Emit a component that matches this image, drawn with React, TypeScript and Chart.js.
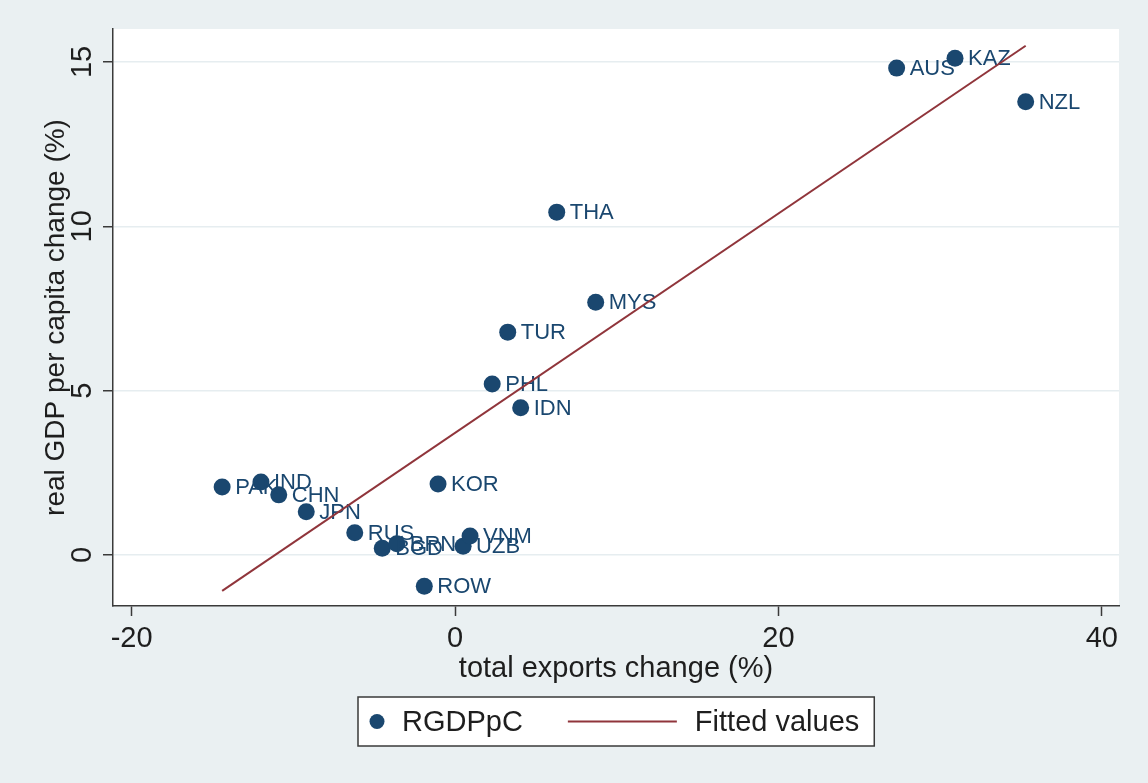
import React, { useEffect, useRef } from "react";
import { Chart, registerables } from "chart.js";

Chart.register(...registerables);

const countries = ["PAK", "IND", "CHN", "JPN", "RUS", "BGD", "BRN", "ROW", "KOR", "UZB", "VNM", "PHL", "IDN", "TUR", "THA", "MYS", "AUS", "KAZ", "NZL"];
const exportsChange = [-14.4, -12.0, -10.9, -9.2, -6.2, -4.5, -3.6, -1.9, -1.05, 0.5, 0.93, 2.3, 4.06, 3.26, 6.29, 8.7, 27.31, 30.92, 35.29];
const gdpChange = [2.07, 2.22, 1.83, 1.32, 0.68, 0.21, 0.34, -0.95, 2.16, 0.27, 0.58, 5.2, 4.48, 6.78, 10.43, 7.69, 14.81, 15.11, 13.79];
const fittedX = [-14.4, 35.29];
const fittedY = [-1.09, 15.49];
const xTicks = [-20, 0, 20, 40];
const yTicks = [0, 5, 10, 15];

const FAMILY = "'Liberation Sans', Arial, sans-serif";
const NAVY = "#1a476f";
const MAROON = "#90353b";
const BG = "#eaf0f2";
const GRID = "#e6edf0";
const AXIS = "#3a3a3a";
const TEXT = "#1e1e1e";

const bgPlugin = {
  id: "bgPlugin",
  beforeDraw(chart: any) {
    const { ctx, chartArea } = chart;
    ctx.save();
    ctx.fillStyle = BG;
    ctx.fillRect(0, 0, chart.width, chart.height);
    ctx.fillStyle = "#ffffff";
    ctx.fillRect(chartArea.left, chartArea.top, chartArea.right - chartArea.left, chartArea.bottom - chartArea.top);
    ctx.restore();
  },
};

const labelPlugin = {
  id: "labelPlugin",
  afterDatasetDraw(chart: any, args: any) {
    if (args.index !== 0) return;
    const { ctx } = chart;
    const meta = chart.getDatasetMeta(0);
    ctx.save();
    ctx.font = `22px ${FAMILY}`;
    ctx.fillStyle = NAVY;
    ctx.textBaseline = "middle";
    ctx.textAlign = "left";
    meta.data.forEach((pt: any, i: number) => {
      ctx.fillText(countries[i], pt.x + 13, pt.y + 1);
    });
    ctx.restore();
  },
};

const legendPlugin = {
  id: "legendPlugin",
  afterDraw(chart: any) {
    const { ctx, chartArea } = chart;
    ctx.save();
    ctx.font = `29px ${FAMILY}`;
    const t1 = "RGDPpC";
    const t2 = "Fitted values";
    const w1 = ctx.measureText(t1).width;
    const w2 = ctx.measureText(t2).width;
    const padL = 10, markerD = 18, gap1 = 16, gap2 = 45, lineW = 109, gap3 = 18, padR = 15;
    const total = padL + markerD + gap1 + w1 + gap2 + lineW + gap3 + w2 + padR;
    const left = Math.round((chartArea.left + chartArea.right) / 2 - total / 2);
    const top = chart.scales.x.bottom - 9;
    const h = 49;
    ctx.fillStyle = "#ffffff";
    ctx.fillRect(left, top, total, h);
    ctx.strokeStyle = AXIS;
    ctx.lineWidth = 1.5;
    ctx.strokeRect(left, top, total, h);
    const cy = top + h / 2;
    let x = left + padL;
    ctx.fillStyle = NAVY;
    ctx.beginPath();
    ctx.arc(x + markerD / 2, cy, 7.5, 0, Math.PI * 2);
    ctx.fill();
    x += markerD + gap1;
    ctx.fillStyle = TEXT;
    ctx.textBaseline = "middle";
    ctx.textAlign = "left";
    ctx.fillText(t1, x, cy + 1);
    x += w1 + gap2;
    ctx.strokeStyle = MAROON;
    ctx.lineWidth = 2;
    ctx.beginPath();
    ctx.moveTo(x, cy);
    ctx.lineTo(x + lineW, cy);
    ctx.stroke();
    x += lineW + gap3;
    ctx.fillText(t2, x, cy + 1);
    ctx.restore();
  },
};

export default function App() {
  const ref = useRef<HTMLCanvasElement | null>(null);
  useEffect(() => {
    if (!ref.current) return;
    const font = { family: FAMILY, size: 29 };
    const yTitleFont = { family: FAMILY, size: 28 };
    const chart = new Chart(ref.current, {
      type: "scatter",
      data: {
        datasets: [
          {
            type: "scatter",
            label: "RGDPpC",
            data: exportsChange.map((x, i) => ({ x, y: gdpChange[i] })),
            backgroundColor: NAVY,
            borderColor: NAVY,
            pointRadius: 8.5,
            pointHoverRadius: 8.5,
            borderWidth: 0,
            order: 1,
          },
          {
            type: "scatter",
            label: "Fitted values",
            data: fittedX.map((x, i) => ({ x, y: fittedY[i] })),
            showLine: true,
            borderColor: MAROON,
            backgroundColor: MAROON,
            borderWidth: 2,
            pointRadius: 0,
            pointHoverRadius: 0,
            order: 0,
          },
        ],
      } as any,
      options: {
        responsive: false,
        animation: false,
        events: [],
        layout: { padding: { top: 29, right: 29, bottom: 77, left: 0 } },
        plugins: { legend: { display: false }, tooltip: { enabled: false } },
        scales: {
          x: {
            type: "linear",
            min: -21.15,
            max: 41.06,
            afterBuildTicks: (s: any) => {
              s.ticks = xTicks.map((value) => ({ value }));
            },
            afterFit: (s: any) => {
              s.height = 100;
            },
            grid: { drawOnChartArea: false, tickLength: 10, tickColor: AXIS, tickWidth: 1.5 },
            border: { color: AXIS, width: 1.5 },
            ticks: { font, color: TEXT, padding: 6, maxRotation: 0, autoSkip: false, callback: (v: any) => String(v) },
            title: { display: true, text: "total exports change (%)", font, color: TEXT, padding: { top: 0, bottom: 20 } },
          },
          y: {
            type: "linear",
            min: -1.55,
            max: 16.0,
            afterBuildTicks: (s: any) => {
              s.ticks = yTicks.map((value) => ({ value }));
            },
            afterFit: (s: any) => {
              s.width = 113;
            },
            grid: { color: GRID, lineWidth: 1.5, tickLength: 10, tickColor: AXIS, tickWidth: 1.5 },
            border: { color: AXIS, width: 1.5 },
            ticks: { font, color: TEXT, padding: 4, minRotation: 90, maxRotation: 90, crossAlign: "center", autoSkip: false, callback: (v: any) => String(v) },
            title: { display: true, text: "real GDP per capita change (%)", font: yTitleFont, color: TEXT, padding: { top: 39, bottom: 0 } },
          },
        },
      } as any,
      plugins: [bgPlugin, labelPlugin, legendPlugin],
    });
    return () => chart.destroy();
  }, []);
  return (
    <div style={{ position: "absolute", left: 0, top: 0, width: 1148, height: 783, background: BG }}>
      <canvas ref={ref} width={1148} height={783} style={{ display: "block", width: 1148, height: 783 }} />
    </div>
  );
}
